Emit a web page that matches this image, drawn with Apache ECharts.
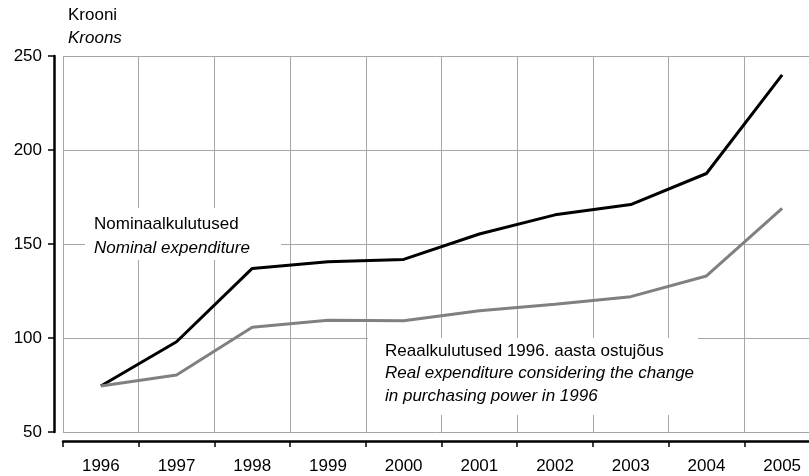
<!DOCTYPE html>
<html>
<head>
<meta charset="utf-8">
<script src="https://cdn.jsdelivr.net/npm/echarts@6/dist/echarts.min.js"></script>
<style>
  html, body { margin: 0; padding: 0; background: #fff; }
  #chart { width: 809px; height: 476px; }
</style>
</head>
<body>
<div id="chart"></div>
<script>
// andmed
const years = ['1996', '1997', '1998', '1999', '2000', '2001', '2002', '2003', '2004', '2005']
const nominal = [74.5, 98, 137, 140.5, 141.8, 155.3, 165.5, 171, 187.5, 240]
const real = [74.5, 80.3, 105.7, 109.5, 109.2, 114.5, 118, 122, 133, 169]

const font = 'Arial, "Liberation Sans", sans-serif'
const fs = 17

// tekst valge taustaga
function label(x, y, lines, box) {
    const els = [{
        type: 'rect', z: 1, silent: true,
        shape: box,
        style: { fill: '#fff' }
    }]
    lines.forEach((l, i) => {
        els.push({
            type: 'text', z: 2, silent: true,
            x: x, y: y + i * l[2],
            style: {
                text: l[0], fontFamily: font, fontSize: fs,
                fontStyle: l[1] ? 'italic' : 'normal',
                fill: '#000', verticalAlign: 'middle'
            }
        })
    })
    return els
}

const chart = echarts.init(document.getElementById('chart'))
chart.setOption({
    animation: false,
    grid: { left: 63, top: 56, width: 757, height: 376, outerBoundsMode: 'none', containLabel: false },
    xAxis: {
        type: 'category',
        data: years,
        boundaryGap: true,
        offset: 9,
        axisLine: { lineStyle: { color: '#000', width: 2.5 } },
        axisTick: { show: true, length: 6, lineStyle: { color: '#000', width: 1.5 } },
        axisLabel: { color: '#000', fontFamily: font, fontSize: fs, margin: 17 },
        splitLine: { show: true, lineStyle: { color: '#a6a6a6', width: 1 } }
    },
    yAxis: {
        type: 'value',
        min: 50, max: 250, interval: 50,
        offset: 9,
        axisLine: { show: true, lineStyle: { color: '#000', width: 2.5 } },
        axisTick: { show: true, length: 6, lineStyle: { color: '#000', width: 1.5 } },
        axisLabel: { color: '#000', fontFamily: font, fontSize: fs, margin: 12 },
        splitLine: { show: true, lineStyle: { color: '#a6a6a6', width: 1 } }
    },
    graphic: [
        { type: 'text', x: 68, y: 15, style: { text: 'Krooni', fontFamily: font, fontSize: fs, fill: '#000', verticalAlign: 'middle' } },
        { type: 'text', x: 68, y: 38, style: { text: 'Kroons', fontFamily: font, fontSize: fs, fontStyle: 'italic', fill: '#000', verticalAlign: 'middle' } },
        ...label(94, 224, [['Nominaalkulutused', false, 24], ['Nominal expenditure', true, 24]],
            { x: 85, y: 208, width: 196, height: 52 }),
        ...label(385, 351, [['Reaalkulutused 1996. aasta ostujõus', false, 22.5],
            ['Real expenditure considering the change', true, 22.5],
            ['in purchasing power in 1996', true, 22.5]],
            { x: 368, y: 338, width: 330, height: 77 })
    ],
    series: [
        {
            name: 'Nominaalkulutused',
            type: 'line',
            data: nominal,
            symbol: 'none',
            z: 3,
            lineStyle: { color: '#000', width: 3 }
        },
        {
            name: 'Reaalkulutused',
            type: 'line',
            data: real,
            symbol: 'none',
            z: 3,
            lineStyle: { color: '#808080', width: 3 }
        }
    ]
})
</script>
</body>
</html>
